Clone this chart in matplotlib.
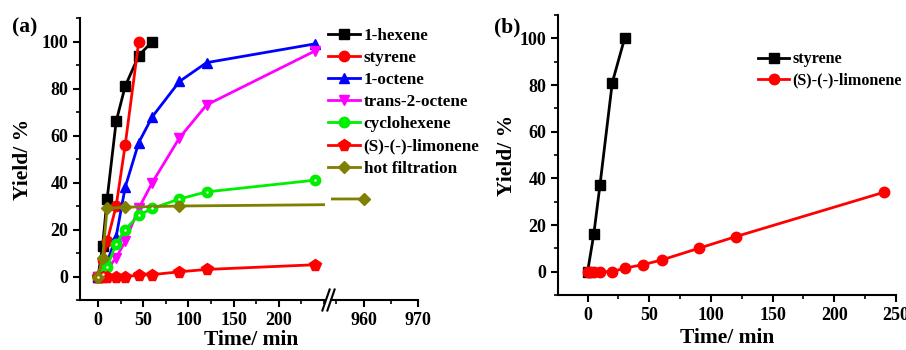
import numpy as np
import matplotlib.pyplot as plt
from matplotlib.ticker import MultipleLocator

plt.rcParams['font.family'] = ['Liberation Serif', 'DejaVu Serif']
plt.rcParams['font.weight'] = 'bold'

# panel (a) data
t_hex = [0, 5, 10, 20, 30, 45, 60]
y_hex = [0, 13, 33, 66, 81, 94, 100]
t_sty = [0, 5, 10, 20, 30, 45]
y_sty = [0, 7, 15, 30, 56, 100]
t_oct = [0, 5, 10, 20, 30, 45, 60, 90, 120, 240]
y_oct = [0, 2, 6, 17, 38, 57, 68, 83, 91, 99]
t_t2o = [0, 5, 10, 20, 30, 45, 60, 90, 120, 240]
y_t2o = [0, 1, 3, 8, 15, 29, 40, 59, 73, 96]
t_cyc = [0, 5, 10, 20, 30, 45, 60, 90, 120, 240]
y_cyc = [0, 1, 4, 14, 20, 26, 29, 33, 36, 41]
t_lim = [0, 5, 10, 20, 30, 45, 60, 90, 120, 240]
y_lim = [0, 0, 0, 0, 0, 0.5, 0.8, 2, 3, 5]
t_hot = [0, 5, 10, 30, 90, 960]
y_hot = [0, 8, 29, 29.5, 30, 33]

# panel (b) data
tb_sty = [0, 5, 10, 20, 30]
yb_sty = [0, 16, 37, 81, 100]
tb_lim = [0, 2, 5, 10, 20, 30, 45, 60, 90, 120, 240]
yb_lim = [0, 0, 0, 0, 0, 1.5, 3, 5, 10, 15, 34]

olive = '#7f7f00'
green = '#00ee00'
TICK = 13
LAB = 15.5
LEG = 12.3

fig = plt.figure(figsize=(9.06, 3.5), dpi=100)
ax1 = fig.add_axes([80/906, 50/350, 245/906, 282/350])
ax2 = fig.add_axes([331/906, 50/350, 87/906, 282/350], sharey=ax1)
axb = fig.add_axes([558/906, 55/350, 338/906, 280/350])

series = [
    (t_hex, y_hex, 'k', 's', '1-hexene'),
    (t_sty, y_sty, 'r', 'o', 'styrene'),
    (t_oct, y_oct, 'b', '^', '1-octene'),
    (t_t2o, y_t2o, 'magenta', 'v', 'trans-2-octene'),
    (t_cyc, y_cyc, green, 'o', 'cyclohexene'),
    (t_lim, y_lim, 'r', 'p', '(S)-(-)-limonene'),
    (t_hot, y_hot, olive, 'D', 'hot filtration'),
]
handles = []
for t, y, c, m, lab in series:
    ms = 7.5
    if m == 'D':
        ms = 6.5
    if m == 'p':
        ms = 8.5
    h, = ax1.plot(t, y, color=c, marker=m, ms=ms, lw=2, label=lab)
    ax2.plot(t, y, color=c, marker=m, ms=ms, lw=2)
    handles.append(h)
# white highlight on the green balls
ax1.plot(t_cyc, y_cyc, ls='none', marker='o', ms=1.8, color='white', mew=0)

ax1.set_xlim(-20, 251)
ax2.set_xlim(954, 970)
ax1.set_ylim(-10, 110)

for a in (ax1, ax2, axb):
    a.spines['top'].set_visible(False)
    a.spines['right'].set_visible(False)
    for s in a.spines.values():
        s.set_linewidth(1.5)
    a.tick_params(which='major', direction='out', length=5, width=1.5, labelsize=TICK)
    a.tick_params(which='minor', direction='out', length=3, width=1.2)

ax2.spines['left'].set_visible(False)
ax2.tick_params(axis='y', which='both', left=False, labelleft=False)

ax1.set_xticks([0, 50, 100, 150, 200])
ax1.xaxis.set_minor_locator(MultipleLocator(25))
ax1.yaxis.set_major_locator(MultipleLocator(20))
ax1.yaxis.set_minor_locator(MultipleLocator(10))
ax2.set_xticks([960, 970])
ax2.xaxis.set_minor_locator(MultipleLocator(5))

# break marks
kw = dict(transform=fig.transFigure, color='k', lw=1.5, clip_on=False)
for x0 in (326/906, 331/906):
    fig.add_artist(plt.Line2D([x0 - 0.004, x0 + 0.004], [50/350 - 0.03, 50/350 + 0.03], **kw))

ax1.set_ylabel('Yield/ %', fontsize=LAB, fontweight='bold', labelpad=6)
fig.text(251/906, 0.015, 'Time/ min', fontsize=LAB, fontweight='bold', ha='center')
fig.text(12/906, 318/350, '(a)', fontsize=LAB, fontweight='bold')

fig.legend(handles=handles, loc='upper left', bbox_to_anchor=(321/906, 1 - 21/350),
           frameon=False, handlelength=1.9, handletextpad=0.2,
           labelspacing=0.36, borderaxespad=0, prop={'weight': 'bold', 'size': LEG})

# panel (b)
axb.plot(tb_sty, yb_sty, 'k-s', ms=7.5, lw=2, label='styrene')
axb.plot(tb_lim, yb_lim, 'r-o', ms=7.5, lw=2, label='(S)-(-)-limonene')
axb.set_xlim(-24, 250)
axb.set_ylim(-10, 110)
axb.xaxis.set_major_locator(MultipleLocator(50))
axb.xaxis.set_minor_locator(MultipleLocator(25))
axb.yaxis.set_major_locator(MultipleLocator(20))
axb.yaxis.set_minor_locator(MultipleLocator(10))
axb.set_xlabel('Time/ min', fontsize=LAB, fontweight='bold', labelpad=3)
axb.set_ylabel('Yield/ %', fontsize=LAB, fontweight='bold', labelpad=2)
fig.legend(loc='upper left', handles=axb.get_lines(), bbox_to_anchor=(752/906, 1 - 45/350),
           frameon=False, handlelength=1.9, handletextpad=0.2, labelspacing=0.33,
           borderaxespad=0, prop={'weight': 'bold', 'size': 11.6})
fig.text(494/906, 318/350, '(b)', fontsize=LAB, fontweight='bold')

fig.savefig('out.png', dpi=100)
